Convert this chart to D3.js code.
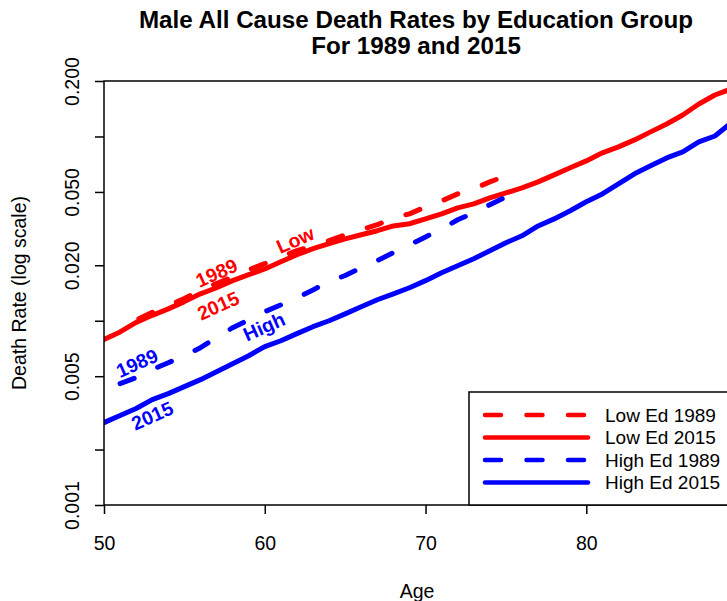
<!DOCTYPE html>
<html>
<head>
<meta charset="utf-8">
<script src="https://cdn.jsdelivr.net/npm/d3@7"></script>
<style>
  body { margin: 0; background: #fff; }
  text { font-family: "Liberation Sans", Arial, sans-serif; }
</style>
</head>
<body>
<div class="canvas"></div>
<script>
// data
const ages2015 = [50,51,52,53,54,55,56,57,58,59,60,61,62,63,64,65,66,67,68,69,
                  70,71,72,73,74,75,76,77,78,79,80,81,82,83,84,85,86,87,88,89];
const lowEd2015 = [0.0079,0.0087,0.0098,0.0107,0.0116,0.0127,0.0140,0.0151,0.0165,0.0178,
                   0.0191,0.0209,0.0228,0.0246,0.0262,0.0278,0.0293,0.0308,0.0327,0.0336,
                   0.0357,0.0380,0.0410,0.0431,0.0464,0.0494,0.0526,0.0567,0.0619,0.0676,
                   0.0737,0.0815,0.0878,0.0958,0.1059,0.1169,0.1308,0.1500,0.1679,0.1810];
const highEd2015 = [0.0028,0.00306,0.00334,0.00373,0.00402,0.00439,0.00479,0.00529,0.00585,0.00646,
                    0.00723,0.00779,0.00851,0.00928,0.0100,0.0109,0.0119,0.0130,0.0140,0.0151,
                    0.0165,0.0182,0.0199,0.0217,0.0240,0.0265,0.0289,0.0327,0.0357,0.0395,
                    0.0442,0.0488,0.0553,0.0627,0.0693,0.0765,0.0825,0.0934,0.1006,0.1184];
const ages1989 = [51,52,53,54,55,56,57,58,59,60,61,62,63,64,65,66,67,68,69,70,71,72,73,74,75];
const lowEd1989 = [0.0089,0.0101,0.0111,0.0121,0.0132,0.0146,0.0159,0.0173,0.0189,0.0204,
                   0.0222,0.0240,0.0255,0.0272,0.0293,0.0312,0.0332,0.0362,0.0380,0.0415,
                   0.0447,0.0488,0.0520,0.0567,0.0611];
const highEd1989 = [0.00456,0.00491,0.00543,0.00592,0.00646,0.00714,0.00809,0.00917,0.0101,0.0112,
                    0.0122,0.0133,0.0147,0.0163,0.0176,0.0194,0.0212,0.0234,0.0258,0.0285,
                    0.0315,0.0353,0.0385,0.0426,0.0470];

const xTicks = [50,60,70,80];
const yTicks = [0.001,0.002,0.005,0.01,0.02,0.05,0.1,0.2];
const yLabelled = [0.001,0.005,0.02,0.05,0.2];
const legendLabels = ['Low Ed 1989','Low Ed 2015','High Ed 1989','High Ed 2015'];

// in-plot annotations: [text, age, rate, colour]
const notes = [
  ['Low', 61.9, 0.0275, 'red'],
  ['1989', 57.0, 0.0182, 'red'],
  ['2015', 57.1, 0.0121, 'red'],
  ['High', 59.95, 0.0093, 'blue'],
  ['1989', 52.05, 0.0059, 'blue'],
  ['2015', 53.0, 0.00306, 'blue']
];

const red = '#ff0000', blue = '#0000ff';

const svg = d3.select('.canvas')
  .append('svg')
    .attr('width', 727)
    .attr('height', 601);

const margin = {top: 81, left: 104, bottom: 96};
const graphWidth = 627;   // frame runs a few px past the window edge
const graphHeight = 601 - margin.top - margin.bottom;

const graph = svg.append('g')
  .attr('transform', `translate(${margin.left},${margin.top})`);

const x = d3.scaleLinear().domain([50, 89]).range([0, graphWidth]);
const y = d3.scaleLog().domain([0.001, 0.2]).range([graphHeight, 0]);

svg.append('clipPath').attr('id', 'plotclip')
  .append('rect').attr('width', graphWidth).attr('height', graphHeight);

// axes
const xAxis = d3.axisBottom(x).tickValues(xTicks).tickSize(9).tickPadding(22).tickFormat(d3.format('d'));
const gx = graph.append('g').attr('transform', `translate(0,${graphHeight})`).call(xAxis);
const yAxis = d3.axisLeft(y).tickValues(yTicks).tickSize(9)
  .tickFormat(d => yLabelled.includes(d) ? d3.format('.3f')(d) : '');
const gy = graph.append('g').call(yAxis);

[gx, gy].forEach(g => {
  g.select('.domain').remove();
  g.selectAll('line').attr('stroke', '#000').attr('stroke-width', 1.5);
  g.selectAll('text').attr('fill', '#000').style('font-size', '19.5px');
});
gy.selectAll('text')
  .attr('x', 0).attr('dy', null).attr('y', -32)
  .attr('dominant-baseline', 'central')
  .attr('text-anchor', 'middle')
  .attr('transform', 'rotate(-90)');

// lines
const series = [
  {ages: ages1989, vals: lowEd1989, color: red, dash: true, phase: 19},
  {ages: ages2015, vals: lowEd2015, color: red, dash: false},
  {ages: ages1989, vals: highEd1989, color: blue, dash: true, phase: 0},
  {ages: ages2015, vals: highEd2015, color: blue, dash: false}
];

const line = d3.line().x(d => x(d[0])).y(d => y(d[1]));

const lines = graph.append('g').attr('clip-path', 'url(#plotclip)');
lines.selectAll('path')
  .data(series)
  .enter()
  .append('path')
    .attr('d', s => line(s.ages.map((a, i) => [a, s.vals[i]])))
    .attr('fill', 'none')
    .attr('stroke', s => s.color)
    .attr('stroke-width', 5)
    .attr('stroke-linecap', 'round')
    .attr('stroke-linejoin', 'round')
    .attr('stroke-dasharray', s => s.dash ? '15,26' : null)
    .attr('stroke-dashoffset', s => s.dash ? s.phase : null);

// annotations
graph.selectAll('.note')
  .data(notes)
  .enter()
  .append('text')
    .attr('class', 'note')
    .attr('transform', d => `translate(${x(d[1])},${y(d[2])}) rotate(-24)`)
    .attr('text-anchor', 'middle')
    .attr('dominant-baseline', 'central')
    .attr('fill', d => d[3] === 'red' ? red : blue)
    .style('font-size', '19.5px')
    .style('font-weight', 'bold')
    .text(d => d[0]);

// frame
graph.append('rect')
  .attr('width', graphWidth).attr('height', graphHeight)
  .attr('fill', 'none').attr('stroke', '#000').attr('stroke-width', 1.5);

// legend (bottom right)
const legend = graph.append('g').attr('transform', `translate(${469 - margin.left},${392 - margin.top})`);
legend.append('rect')
  .attr('width', graphWidth - (469 - margin.left))
  .attr('height', graphHeight - (392 - margin.top))
  .attr('fill', '#fff').attr('stroke', '#000').attr('stroke-width', 1.5);
const rows = legend.selectAll('.row')
  .data(series)
  .enter()
  .append('g')
    .attr('class', 'row')
    .attr('transform', (d, i) => `translate(0,${23 + i * 22.5})`);
rows.append('line')
  .attr('x1', 16).attr('x2', 119)
  .attr('stroke', d => d.color)
  .attr('stroke-width', 4.5)
  .attr('stroke-linecap', 'round')
  .attr('stroke-dasharray', d => d.dash ? '16,25.5' : null);
rows.append('text')
  .attr('x', 136)
  .attr('dominant-baseline', 'central')
  .style('font-size', '19px')
  .text((d, i) => legendLabels[i]);

// titles
svg.append('text')
  .attr('x', 416).attr('y', 28)
  .attr('text-anchor', 'middle')
  .style('font-size', '24.2px').style('font-weight', 'bold')
  .text('Male All Cause Death Rates by Education Group');
svg.append('text')
  .attr('x', 416).attr('y', 54)
  .attr('text-anchor', 'middle')
  .style('font-size', '24.2px').style('font-weight', 'bold')
  .text('For 1989 and 2015');
svg.append('text')
  .attr('x', 417).attr('y', 598)
  .attr('text-anchor', 'middle')
  .style('font-size', '19.5px')
  .text('Age');
svg.append('text')
  .attr('transform', `translate(19,${margin.top + graphHeight / 2}) rotate(-90)`)
  .attr('text-anchor', 'middle')
  .attr('dominant-baseline', 'central')
  .style('font-size', '19.5px')
  .text('Death Rate (log scale)');
</script>
</body>
</html>
